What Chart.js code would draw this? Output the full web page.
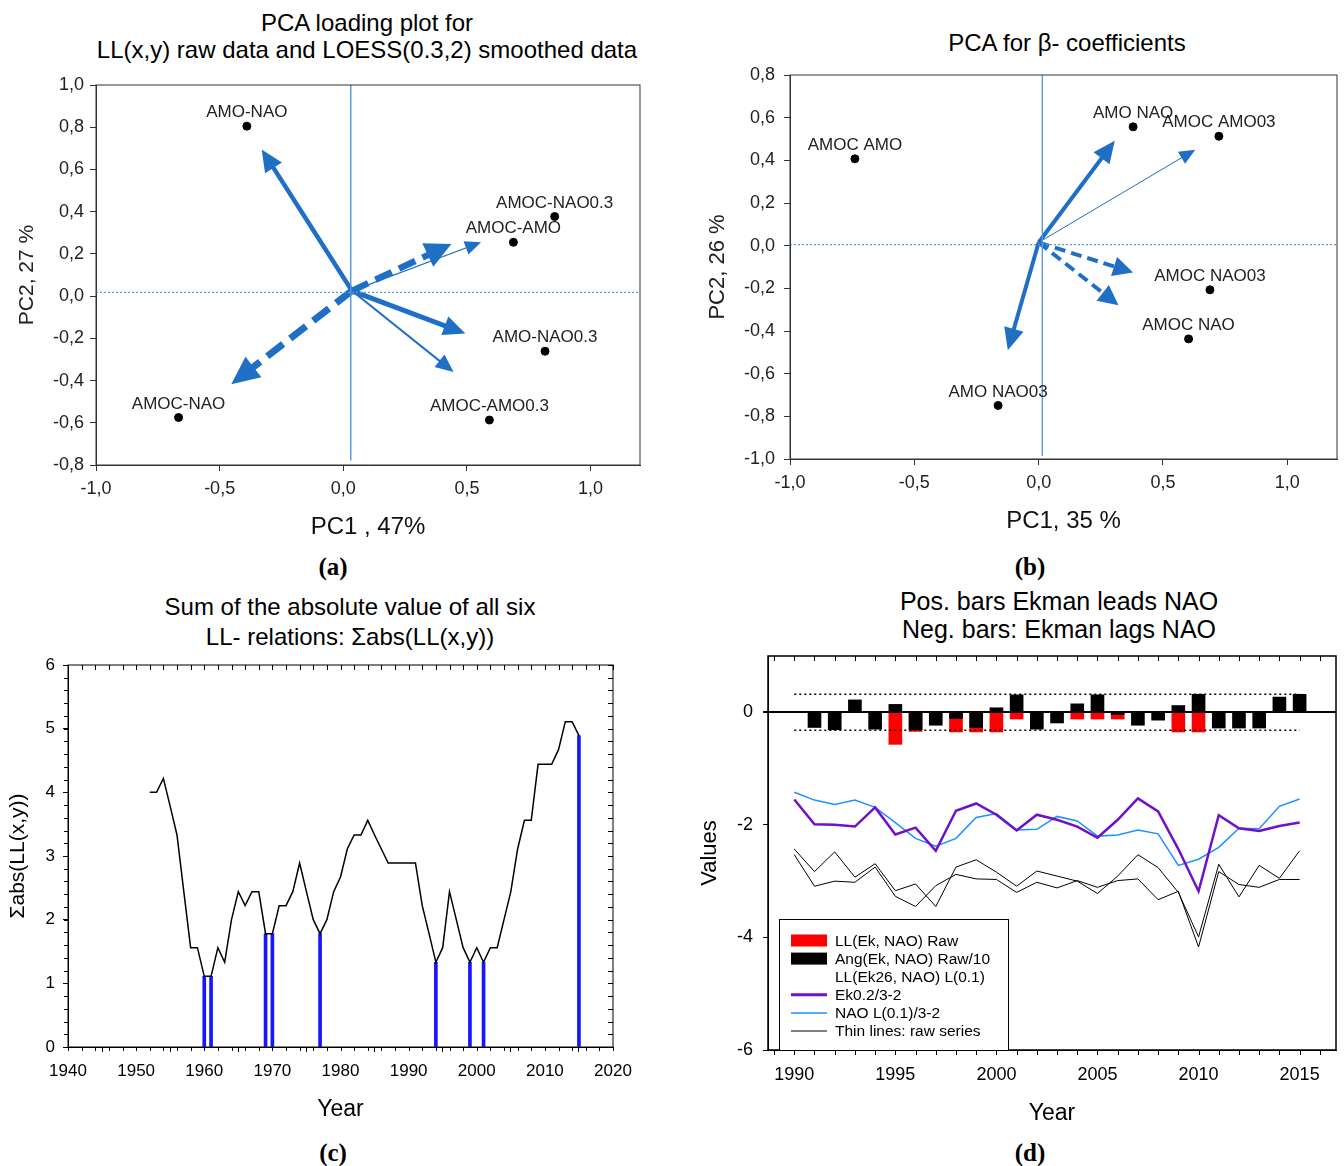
<!DOCTYPE html>
<html>
<head>
<meta charset="utf-8">
<script src="https://cdn.jsdelivr.net/npm/chart.js@4.4.1/dist/chart.umd.min.js"></script>
<style>
body{margin:0;background:#fff;width:1344px;height:1166px;position:relative;overflow:hidden;font-family:"Liberation Sans",Arial,sans-serif;color:#000}
canvas{position:absolute}
.ttl{position:absolute;text-align:center;white-space:nowrap;font-size:24px}
.cap{position:absolute;width:60px;text-align:center;font-family:"Liberation Serif","DejaVu Serif",serif;font-weight:bold;font-size:25px;line-height:28px}
</style>
</head>
<body>
<canvas id="chA" width="660" height="480" style="left:0;top:70px"></canvas>
<canvas id="chB" width="664" height="490" style="left:680px;top:60px"></canvas>
<canvas id="chC" width="660" height="475" style="left:0;top:655px"></canvas>
<canvas id="chD" width="664" height="490" style="left:680px;top:645px"></canvas>

<div class="ttl" style="left:67px;width:600px;top:9px;line-height:27px">PCA loading plot for<br>LL(x,y) raw data and LOESS(0.3,2) smoothed data</div>
<div class="ttl" style="left:767px;width:600px;top:29px;line-height:28px">PCA for β- coefficients</div>
<div class="ttl" style="left:50px;width:600px;top:592px;line-height:30px">Sum of the absolute value of all six<br>LL- relations: Σabs(LL(x,y))</div>
<div class="ttl" style="left:759px;width:600px;top:587px;line-height:28px;font-size:25px">Pos. bars Ekman leads NAO<br>Neg. bars: Ekman lags NAO</div>

<div class="cap" style="left:303px;top:553px">(a)</div>
<div class="cap" style="left:1000px;top:553px">(b)</div>
<div class="cap" style="left:303px;top:1139px">(c)</div>
<div class="cap" style="left:1000px;top:1139px">(d)</div>

<script>
// ---- panel (a): PCA loadings, LL(x,y) ----
const labelsA = ['AMO-NAO', 'AMOC-NAO0.3', 'AMOC-AMO', 'AMO-NAO0.3', 'AMOC-AMO0.3', 'AMOC-NAO'];
const pc1A = [-0.39, 0.855, 0.688, 0.816, 0.591, -0.666];
const pc2A = [0.805, 0.377, 0.255, -0.261, -0.587, -0.575];
const originA = [0.035, 0.025];
const tipsA = [[-0.33, 0.695], [0.437, 0.247], [0.557, 0.255], [0.494, -0.177], [0.446, -0.36], [-0.453, -0.417]];
const refA = [0.03, 0.018]; // vertical line x, horizontal line y

// ---- panel (b): PCA for beta coefficients ----
const labelsB = ['AMOC AMO', 'AMO NAO', 'AMOC AMO03', 'AMOC NAO03', 'AMOC NAO', 'AMO NAO03'];
const pc1B = [-0.739, 0.38, 0.725, 0.689, 0.603, -0.163];
const pc2B = [0.407, 0.557, 0.513, -0.207, -0.437, -0.749];
const originB = [0.0, 0.015];
const tipsB = [[0.306, 0.492], [0.63, 0.45], [0.38, -0.126], [0.321, -0.279], [-0.124, -0.49]];
const refB = [0.015, 0.005];
const pcTicks = [-1, -0.5, 0, 0.5, 1];

// ---- panel (c): sum of abs LL ----
const yearsC = [1952, 1953, 1954, 1955, 1956, 1957, 1958, 1959, 1960, 1961, 1962, 1963, 1964, 1965, 1966, 1967, 1968, 1969, 1970,
  1971, 1972, 1973, 1974, 1975, 1976, 1977, 1978, 1979, 1980, 1981, 1982, 1983, 1984, 1985, 1986, 1987, 1988, 1989, 1990,
  1991, 1992, 1993, 1994, 1995, 1996, 1997, 1998, 1999, 2000, 2001, 2002, 2003, 2004, 2005, 2006, 2007, 2008, 2009, 2010,
  2011, 2012, 2013, 2014, 2015];
const sumC = [4.0, 4.0, 4.22, 3.78, 3.33, 2.44, 1.56, 1.56, 1.11, 1.11, 1.56, 1.33, 2.0, 2.44, 2.22, 2.44, 2.44, 1.78, 1.78,
  2.22, 2.22, 2.44, 2.89, 2.44, 2.0, 1.78, 2.0, 2.44, 2.67, 3.11, 3.33, 3.33, 3.56, 3.33, 3.11, 2.89, 2.89, 2.89, 2.89,
  2.89, 2.22, 1.78, 1.33, 1.56, 2.44, 2.0, 1.56, 1.33, 1.56, 1.33, 1.56, 1.56, 2.0, 2.44, 3.11, 3.56, 3.56, 4.44, 4.44,
  4.44, 4.67, 5.11, 5.11, 4.89];
const minYearsC = [1960, 1961, 1969, 1970, 1977, 1994, 1999, 2001, 2015];

// ---- panel (d): Ekman vs NAO ----
const yearsD = [1990, 1991, 1992, 1993, 1994, 1995, 1996, 1997, 1998, 1999, 2000, 2001, 2002, 2003, 2004, 2005, 2006,
  2007, 2008, 2009, 2010, 2011, 2012, 2013, 2014, 2015];
const barYearsD = yearsD.slice(1);
const angD = [-0.27, -0.31, 0.22, -0.3, 0.14, -0.31, -0.23, -0.11, -0.27, 0.08, 0.31, -0.3, -0.19, 0.15, 0.31, -0.04,
  -0.23, -0.14, 0.12, 0.32, -0.28, -0.28, -0.28, 0.27, 0.32];
const llRawD = [null, null, null, null, -0.57, -0.34, null, -0.35, -0.35, -0.35, -0.12, null, null, -0.12, -0.12, -0.12,
  null, null, -0.35, -0.35, null, null, null, null, null];
const ekD = [-1.55, -1.99, -2.0, -2.03, -1.69, -2.17, -2.05, -2.46, -1.75, -1.62, -1.82, -2.1, -1.82, -1.91, -2.03, -2.23,
  -1.91, -1.53, -1.76, -2.43, -3.18, -1.83, -2.06, -2.11, -2.02, -1.96];
const naoD = [-1.42, -1.56, -1.64, -1.56, -1.69, -1.96, -2.24, -2.38, -2.24, -1.87, -1.8, -2.09, -2.08, -1.85, -1.93, -2.2,
  -2.18, -2.09, -2.16, -2.72, -2.61, -2.4, -2.06, -2.07, -1.67, -1.54];
const rawAD = [-2.43, -2.83, -2.48, -2.93, -2.69, -3.17, -3.05, -3.45, -2.75, -2.62, -2.84, -3.09, -2.82, -2.91, -3.0, -3.22,
  -2.91, -2.53, -2.76, -3.2, -3.99, -2.7, -3.28, -2.72, -2.95, -2.46];
const rawBD = [-2.53, -3.09, -3.0, -3.02, -2.75, -3.27, -3.45, -3.08, -2.88, -2.96, -2.97, -3.2, -3.02, -3.12, -2.99, -3.11,
  -2.99, -2.96, -3.33, -3.18, -4.17, -2.83, -3.06, -3.11, -2.97, -2.97];
const signifD = 0.32;
const tickYearsD = [1990, 1995, 2000, 2005, 2010, 2015];
const tickValsD = [-6, -4, -2, 0];

Chart.defaults.font.family = '"Liberation Sans", Arial, sans-serif';
Chart.defaults.color = '#000';
Chart.defaults.animation = false;

const ARROW = '#1f6fc4';
const REF = '#5b9bd5';
const comma = v => (Math.abs(v) < 1e-9 ? 0 : v).toFixed(1).replace('.', ',');
const setTicks = vals => s => { s.ticks = vals.map(v => ({value: v})); };
// fixed box sizes so the plot areas land where the figure has them
const fixY = w => s => { s.width = w; s.paddingTop = 0; s.paddingBottom = 0; };
const fixX = h => s => { s.height = h; s.paddingLeft = 0; s.paddingRight = 0; };

function frame(color, width) {
  return {
    id: 'frame',
    afterDraw(chart) {
      const {ctx, chartArea: a} = chart;
      ctx.save();
      ctx.strokeStyle = color;
      ctx.lineWidth = width;
      ctx.strokeRect(a.left, a.top, a.right - a.left, a.bottom - a.top);
      ctx.restore();
    }
  };
}

// arrow heads: clip the shaft at the head base, then fill the head
const arrowHeads = {
  id: 'arrowHeads',
  geom(chart, i) {
    const ds = chart.data.datasets[i];
    const pts = chart.getDatasetMeta(i).data;
    const a = pts[0], b = pts[pts.length - 1];
    const ang = Math.atan2(b.y - a.y, b.x - a.x);
    return {ds, tx: b.x, ty: b.y, c: Math.cos(ang), s: Math.sin(ang), L: ds.head[0], H: ds.head[1]};
  },
  beforeDatasetDraw(chart, args) {
    const ds = chart.data.datasets[args.index];
    if (!ds.head) return;
    const g = this.geom(chart, args.index);
    const bx = g.tx - g.c * g.L * 0.8, by = g.ty - g.s * g.L * 0.8;
    const ctx = chart.ctx, K = 5000;
    ctx.save();
    ctx.beginPath();
    ctx.moveTo(bx - g.s * K, by + g.c * K);
    ctx.lineTo(bx + g.s * K, by - g.c * K);
    ctx.lineTo(bx + g.s * K - g.c * K, by - g.c * K - g.s * K);
    ctx.lineTo(bx - g.s * K - g.c * K, by + g.c * K - g.s * K);
    ctx.closePath();
    ctx.clip();
  },
  afterDatasetDraw(chart, args) {
    const ds = chart.data.datasets[args.index];
    if (!ds.head) return;
    const ctx = chart.ctx;
    ctx.restore();
    const g = this.geom(chart, args.index);
    ctx.save();
    ctx.fillStyle = ds.borderColor;
    ctx.beginPath();
    ctx.moveTo(g.tx, g.ty);
    ctx.lineTo(g.tx - g.L * g.c + g.H * g.s, g.ty - g.L * g.s - g.H * g.c);
    ctx.lineTo(g.tx - g.L * g.c - g.H * g.s, g.ty - g.L * g.s + g.H * g.c);
    ctx.closePath();
    ctx.fill();
    ctx.restore();
  }
};

function pointLabels(index, labels, size, dy) {
  return {
    id: 'pointLabels',
    afterDatasetsDraw(chart) {
      const ctx = chart.ctx;
      ctx.save();
      ctx.font = size + 'px "Liberation Sans", Arial, sans-serif';
      ctx.fillStyle = '#222';
      ctx.textAlign = 'center';
      ctx.textBaseline = 'middle';
      chart.getDatasetMeta(index).data.forEach((p, i) => ctx.fillText(labels[i], p.x, p.y - dy));
      ctx.restore();
    }
  };
}

function tickMarks(list) {
  return {
    id: 'tickMarks',
    afterDraw(chart) {
      const {ctx, chartArea: a, scales} = chart;
      ctx.save();
      ctx.strokeStyle = '#000';
      ctx.lineWidth = 1;
      ctx.beginPath();
      list.forEach(t => {
        const sc = (t.side === 'top' || t.side === 'bottom') ? scales.x : scales.y;
        for (let k = 0; t.from + k * t.step <= t.to + 1e-9; k++) {
          const p = Math.round(sc.getPixelForValue(t.from + k * t.step)) + 0.5;
          if (t.side === 'bottom') { ctx.moveTo(p, a.bottom); ctx.lineTo(p, a.bottom + t.len); }
          if (t.side === 'top') { ctx.moveTo(p, a.top); ctx.lineTo(p, a.top - t.len); }
          if (t.side === 'left') { ctx.moveTo(a.left, p); ctx.lineTo(a.left - t.len, p); }
          if (t.side === 'right') { ctx.moveTo(a.right, p); ctx.lineTo(a.right + t.len, p); }
        }
      });
      ctx.stroke();
      ctx.restore();
    }
  };
}

function pcaChart(id, o) {
  const arrows = o.tips.map((t, i) => ({
    data: [{x: o.origin[0], y: o.origin[1]}, {x: t[0], y: t[1]}],
    showLine: true, pointRadius: 0, borderColor: ARROW,
    borderWidth: o.styles[i].w, borderDash: o.styles[i].dash, head: o.styles[i].head
  }));
  const datasets = [
    {data: [{x: o.ref[0], y: o.yTop}, {x: o.ref[0], y: o.yBot}], showLine: true, pointRadius: 0, borderColor: REF, borderWidth: 1},
    {data: [{x: -1, y: o.ref[1]}, {x: 1.2, y: o.ref[1]}], showLine: true, pointRadius: 0, borderColor: REF, borderWidth: 1.2, borderDash: [2, 2]},
    ...arrows,
    {data: o.xs.map((x, i) => ({x, y: o.ys[i]})), pointRadius: 4, pointBackgroundColor: '#000', pointBorderColor: '#000'}
  ];
  return new Chart(document.getElementById(id), {
    type: 'scatter',
    data: {datasets},
    options: {
      responsive: false,
      layout: {padding: {top: o.pad[0], right: o.pad[1], left: 0, bottom: 0}},
      plugins: {legend: {display: false}, tooltip: {enabled: false}},
      scales: {
        x: {
          type: 'linear', min: -1, max: 1.2,
          afterBuildTicks: setTicks(pcTicks),
          afterFit: fixX(o.xH),
          grid: {drawOnChartArea: false, tickLength: 6, color: '#333'},
          border: {color: '#333'},
          ticks: {padding: o.xPad, callback: comma, color: '#222', font: {size: o.tick}},
          title: {display: true, text: o.xTitle, font: {size: 24}, color: '#111', padding: {top: 0, bottom: o.xTitlePad}}
        },
        y: {
          type: 'linear', min: o.yMin, max: o.yMax,
          afterFit: fixY(o.yW),
          grid: {drawOnChartArea: false, tickLength: 6, color: '#333'},
          border: {color: '#333'},
          ticks: {stepSize: 0.2, padding: o.yPad, callback: comma, color: '#222', font: {size: o.tick}},
          title: {display: true, text: o.yTitle, font: {size: o.yTitleSize}, color: '#222', padding: {top: o.yTitlePad, bottom: 0}}
        }
      }
    },
    plugins: [arrowHeads, pointLabels(datasets.length - 1, o.labels, 17, 13.5), frame('#333', 1)]
  });
}

pcaChart('chA', {
  tips: tipsA, origin: originA, ref: refA, yTop: 1.0, yBot: -0.778,
  styles: [
    {w: 4.5, dash: [], head: [22, 10]},
    {w: 6.5, dash: [18, 8], head: [26, 13]},
    {w: 1.2, dash: [], head: [16, 7]},
    {w: 5, dash: [], head: [22, 10]},
    {w: 2, dash: [], head: [18, 8]},
    {w: 7, dash: [20, 9], head: [28, 13]}
  ],
  xs: pc1A, ys: pc2A, labels: labelsA,
  pad: [15, 20], xH: 85, yW: 96, yMin: -0.8, yMax: 1.0,
  tick: 18, xPad: 7, yPad: 6,
  xTitle: 'PC1 , 47%', xTitlePad: 8.6,
  yTitle: 'PC2, 27 %', yTitleSize: 21, yTitlePad: 14.4
});

pcaChart('chB', {
  tips: tipsB, origin: originB, ref: refB, yTop: 0.8, yBot: -0.985,
  styles: [
    {w: 4, dash: [], head: [22, 10]},
    {w: 1, dash: [], head: [16, 7]},
    {w: 4, dash: [11, 6], head: [20, 10]},
    {w: 4, dash: [11, 6], head: [20, 10]},
    {w: 4, dash: [], head: [22, 10]}
  ],
  xs: pc1B, ys: pc2B, labels: labelsB,
  pad: [15, 7], xH: 91, yW: 110, yMin: -1.0, yMax: 0.8,
  tick: 18, xPad: 7, yPad: 9,
  xTitle: 'PC1, 35 %', xTitlePad: 14.6,
  yTitle: 'PC2, 26 %', yTitleSize: 22, yTitlePad: 24.8
});

// ---- (c) ----
new Chart(document.getElementById('chC'), {
  type: 'line',
  data: {
    datasets: [
      {type: 'line', data: yearsC.map((x, i) => ({x, y: sumC[i]})), borderColor: '#000', borderWidth: 1.5, pointRadius: 0, tension: 0},
      {type: 'bar', data: minYearsC.map(x => ({x, y: sumC[yearsC.indexOf(x)]})), backgroundColor: '#1616ff', barThickness: 3, grouped: false}
    ]
  },
  options: {
    responsive: false,
    layout: {padding: {top: 10, right: 47, left: 0, bottom: 0}},
    plugins: {legend: {display: false}, tooltip: {enabled: false}},
    scales: {
      x: {
        type: 'linear', min: 1940, max: 2020, offset: false,
        afterFit: fixX(83),
        grid: {drawOnChartArea: false, tickLength: 5, color: '#000'},
        border: {color: '#000'},
        ticks: {stepSize: 10, autoSkip: false, padding: 8.8, font: {size: 17}, callback: v => String(v)},
        title: {display: true, text: 'Year', font: {size: 23}, padding: {top: 0, bottom: 6.2}}
      },
      y: {
        type: 'linear', min: 0, max: 6,
        afterFit: fixY(68),
        grid: {drawOnChartArea: false, tickLength: 5, color: '#000'},
        border: {color: '#000'},
        ticks: {stepSize: 1, padding: 8, font: {size: 17}},
        title: {display: true, text: 'Σabs(LL(x,y))', font: {size: 21}, padding: {top: 5.4, bottom: 0}}
      }
    }
  },
  plugins: [frame('#000', 1), tickMarks([
    {side: 'bottom', from: 1940, to: 2020, step: 2, len: 4},
    {side: 'top', from: 1940, to: 2020, step: 2, len: -5},
    {side: 'left', from: 0, to: 6, step: 0.2, len: 4},
    {side: 'right', from: 0, to: 6, step: 0.2, len: -5}
  ])]
});

// ---- (d) ----
const PURPLE = '#7010c8', BLUE = '#1e90ff';
const legendD = {
  id: 'legendD',
  afterDraw(chart) {
    const {ctx, chartArea: a} = chart;
    const x0 = a.left + 11, y0 = a.top + 263;
    const rows = [
      {kind: 'box', color: '#ff0000', text: 'LL(Ek, NAO) Raw'},
      {kind: 'box', color: '#000', text: 'Ang(Ek, NAO) Raw/10'},
      {kind: 'none', text: 'LL(Ek26, NAO) L(0.1)'},
      {kind: 'line', color: PURPLE, w: 3, text: 'Ek0.2/3-2'},
      {kind: 'line', color: BLUE, w: 1.5, text: 'NAO L(0.1)/3-2'},
      {kind: 'line', color: '#000', w: 1, text: 'Thin lines: raw series'}
    ];
    ctx.save();
    ctx.fillStyle = '#fff';
    ctx.fillRect(x0, y0, 229, a.bottom - y0);
    ctx.strokeStyle = '#000';
    ctx.lineWidth = 1;
    ctx.strokeRect(x0 + 0.5, y0 + 0.5, 229, a.bottom - y0);
    ctx.font = '15.5px "Liberation Sans", Arial, sans-serif';
    ctx.textBaseline = 'middle';
    rows.forEach((r, i) => {
      const cy = y0 + 21.5 + i * 18.1;
      if (r.kind === 'box') { ctx.fillStyle = r.color; ctx.fillRect(x0 + 12, cy - 6, 36, 12); }
      if (r.kind === 'line') {
        ctx.strokeStyle = r.color; ctx.lineWidth = r.w;
        ctx.beginPath(); ctx.moveTo(x0 + 12, cy); ctx.lineTo(x0 + 48, cy); ctx.stroke();
      }
      ctx.fillStyle = '#000';
      ctx.fillText(r.text, x0 + 56, cy + 1);
    });
    ctx.restore();
  }
};

new Chart(document.getElementById('chD'), {
  type: 'line',
  data: {
    datasets: [
      {data: yearsD.map((x, i) => ({x, y: ekD[i]})), borderColor: PURPLE, borderWidth: 2.5, pointRadius: 0, tension: 0},
      {data: yearsD.map((x, i) => ({x, y: naoD[i]})), borderColor: BLUE, borderWidth: 1.5, pointRadius: 0, tension: 0},
      {data: yearsD.map((x, i) => ({x, y: rawAD[i]})), borderColor: '#000', borderWidth: 1, pointRadius: 0, tension: 0},
      {data: yearsD.map((x, i) => ({x, y: rawBD[i]})), borderColor: '#000', borderWidth: 1, pointRadius: 0, tension: 0},
      {data: [{x: 1990, y: signifD}, {x: 2015, y: signifD}], borderColor: '#000', borderWidth: 1.5, borderDash: [2, 3], pointRadius: 0},
      {data: [{x: 1990, y: -signifD}, {x: 2015, y: -signifD}], borderColor: '#000', borderWidth: 1.5, borderDash: [2, 3], pointRadius: 0},
      {type: 'bar', data: barYearsD.map((x, i) => ({x, y: angD[i]})), backgroundColor: '#000', barThickness: 13, grouped: false},
      {type: 'bar', data: barYearsD.map((x, i) => ({x, y: llRawD[i]})), backgroundColor: '#ff0000', barThickness: 13, grouped: false}
    ]
  },
  options: {
    responsive: false,
    layout: {padding: {top: 11, right: 8, left: 0, bottom: 0}},
    plugins: {legend: {display: false}, tooltip: {enabled: false}},
    scales: {
      x: {
        type: 'linear', min: 1988.7, max: 2016.8, offset: false,
        afterBuildTicks: setTicks(tickYearsD),
        afterFit: fixX(85),
        grid: {drawOnChartArea: false, drawTicks: false},
        border: {color: '#000'},
        ticks: {autoSkip: false, padding: 14, font: {size: 18}, callback: v => String(v)},
        title: {display: true, text: 'Year', font: {size: 23}, padding: {top: 0, bottom: 7.2}}
      },
      y: {
        type: 'linear', min: -6, max: 1,
        afterBuildTicks: setTicks(tickValsD),
        afterFit: fixY(88),
        grid: {
          drawOnChartArea: true, tickLength: 5, tickColor: '#000',
          color: c => (c.tick && c.tick.value === 0 ? '#000' : 'rgba(0,0,0,0)'),
          lineWidth: c => (c.tick && c.tick.value === 0 ? 2 : 1)
        },
        border: {color: '#000'},
        ticks: {padding: 10, font: {size: 18}},
        title: {display: true, text: 'Values', font: {size: 22}, padding: {top: 16.8, bottom: 0}}
      }
    }
  },
  plugins: [frame('#000', 1.5), tickMarks([
    {side: 'bottom', from: 1989, to: 2016, step: 1, len: 5},
    {side: 'top', from: 1989, to: 2016, step: 1, len: -5}
  ]), legendD]
});
</script>
</body>
</html>
